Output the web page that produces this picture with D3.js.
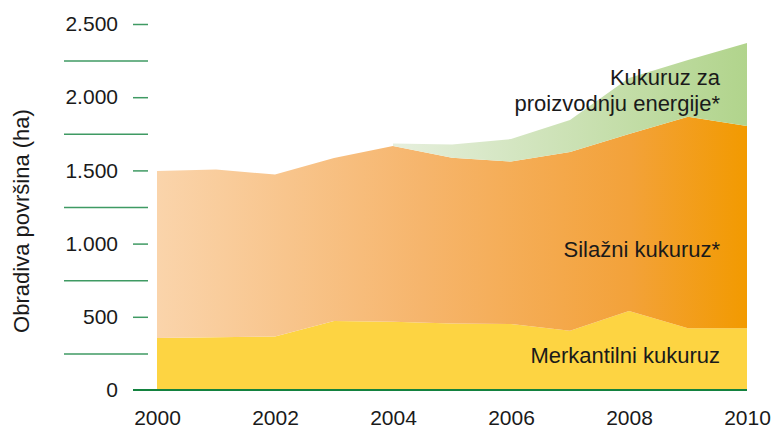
<!DOCTYPE html>
<html>
<head>
<meta charset="utf-8">
<script src="https://cdn.jsdelivr.net/npm/d3@7"></script>
<style>
  body { margin: 0; background: #fff; }
  svg { display: block; font-family: 'Liberation Sans', Arial, sans-serif; }
  .axis text { font-size: 21px; fill: #1a1a1a; }
  .axis .domain { display: none; }
</style>
</head>
<body>
<div id="chart"></div>
<script>
// data (ha)
const years = [2000, 2001, 2002, 2003, 2004, 2005, 2006, 2007, 2008, 2009, 2010]
const merkantilni = [355, 360, 366, 471, 467, 455, 451, 405, 540, 421, 421]
const silazni = [1141, 1146, 1106, 1114, 1200, 1132, 1109, 1221, 1209, 1446, 1382]
// energy maize only starts in 2004
const energija = [null, null, null, null, 16, 90, 154, 218, 382, 387, 567]

const yTicks = [0, 500, 1000, 1500, 2000, 2500]
const yMinor = [250, 750, 1250, 1750, 2250]
const xTicks = [2000, 2002, 2004, 2006, 2008, 2010]

const margin = { top: 24, left: 157, right: 26, bottom: 39 }
const width = 773 - margin.left - margin.right
const height = 429 - margin.top - margin.bottom

const svg = d3
  .select('#chart')
  .append('svg')
  .attr('width', 773)
  .attr('height', 429)

const defs = svg.append('defs')

const g = svg
  .append('g')
  .attr('transform', 'translate(' + margin.left + ',' + margin.top + ')')

const xPositionScale = d3.scaleLinear().domain([2000, 2010]).range([0, width])
const yPositionScale = d3.scaleLinear().domain([0, 2500]).range([height, 0])

const locale = d3.formatLocale({ decimal: ',', thousands: '.', grouping: [3], currency: ['', ' kn'] })
const fmt = locale.format(',d')

// build rows and stack them
const rows = years.map((year, i) => ({
  year: year,
  merk: merkantilni[i],
  sil: silazni[i],
  en: energija[i] || 0,
  hasEn: energija[i] !== null
}))

const stacked = d3.stack().keys(['merk', 'sil', 'en'])(rows)

// gradients
const orangeGrad = defs
  .append('linearGradient')
  .attr('id', 'orange-grad')
  .attr('gradientUnits', 'userSpaceOnUse')
  .attr('x1', xPositionScale(2000))
  .attr('x2', xPositionScale(2010))
  .attr('y1', 0)
  .attr('y2', 0)
orangeGrad.append('stop').attr('offset', '0%').attr('stop-color', '#fad4ab')
orangeGrad.append('stop').attr('offset', '45%').attr('stop-color', '#f6b56c')
orangeGrad.append('stop').attr('offset', '80%').attr('stop-color', '#f3a23a')
orangeGrad.append('stop').attr('offset', '100%').attr('stop-color', '#f29a00')

const greenGrad = defs
  .append('linearGradient')
  .attr('id', 'green-grad')
  .attr('gradientUnits', 'userSpaceOnUse')
  .attr('x1', xPositionScale(2004))
  .attr('x2', xPositionScale(2010))
  .attr('y1', 0)
  .attr('y2', 0)
greenGrad.append('stop').attr('offset', '0%').attr('stop-color', '#e6efdd')
greenGrad.append('stop').attr('offset', '100%').attr('stop-color', '#b1d48c')

const area = d3
  .area()
  .x(d => xPositionScale(d.data.year))
  .y0(d => yPositionScale(d[0]))
  .y1(d => yPositionScale(d[1]))

const fills = ['#fdd442', 'url(#orange-grad)', 'url(#green-grad)']

g.selectAll('.layer')
  .data(stacked)
  .enter()
  .append('path')
  .attr('class', 'layer')
  .attr('fill', (d, i) => fills[i])
  .attr('d', (d, i) => (i === 2 ? area.defined(p => p.data.hasEn)(d) : area.defined(() => true)(d)))

// y axis: short ticks with labels
const yAxis = d3
  .axisLeft(yPositionScale)
  .tickValues(yTicks.filter(d => d > 0))
  .tickFormat(fmt)
  .tickSize(15)
  .tickPadding(15)
g.append('g')
  .attr('class', 'axis y-axis')
  .attr('transform', 'translate(-9,0)')
  .call(yAxis)
  .selectAll('.tick line')
  .attr('stroke', '#3f9a63')
  .attr('stroke-width', 1.5)

// zero label sits on the baseline
g.append('g')
  .attr('class', 'axis')
  .append('text')
  .attr('x', -39)
  .attr('y', yPositionScale(0))
  .attr('dy', '0.32em')
  .attr('text-anchor', 'end')
  .text(fmt(yTicks[0]))

// long lines halfway between labels
const yMinorAxis = d3
  .axisLeft(yPositionScale)
  .tickValues(yMinor)
  .tickFormat('')
  .tickSize(84)
g.append('g')
  .attr('class', 'axis y-minor')
  .attr('transform', 'translate(-9,0)')
  .call(yMinorAxis)
  .selectAll('.tick line')
  .attr('stroke', '#3f9a63')
  .attr('stroke-width', 1.5)

// baseline
g.append('line')
  .attr('x1', -24)
  .attr('x2', xPositionScale(2010))
  .attr('y1', yPositionScale(0))
  .attr('y2', yPositionScale(0))
  .attr('stroke', '#13823f')
  .attr('stroke-width', 2)

// x axis
const xAxis = d3
  .axisBottom(xPositionScale)
  .tickValues(xTicks)
  .tickFormat(d3.format('d'))
  .tickSize(0)
  .tickPadding(20)
g.append('g')
  .attr('class', 'axis x-axis')
  .attr('transform', 'translate(0,' + height + ')')
  .call(xAxis)

// y title
svg
  .append('text')
  .attr('transform', 'translate(29,221) rotate(-90)')
  .attr('text-anchor', 'middle')
  .attr('font-size', 22)
  .attr('fill', '#1a1a1a')
  .text('Obradiva površina (ha)')

// series labels
const labels = [
  { text: 'Merkantilni kukuruz', y: 363 },
  { text: 'Silažni kukuruz*', y: 257 },
  { text: 'Kukuruz za', y: 85 },
  { text: 'proizvodnju energije*', y: 111 }
]
svg
  .selectAll('.series-label')
  .data(labels)
  .enter()
  .append('text')
  .attr('class', 'series-label')
  .attr('x', 720)
  .attr('y', d => d.y)
  .attr('text-anchor', 'end')
  .attr('font-size', 22)
  .attr('fill', '#1a1a1a')
  .text(d => d.text)
</script>
</body>
</html>
